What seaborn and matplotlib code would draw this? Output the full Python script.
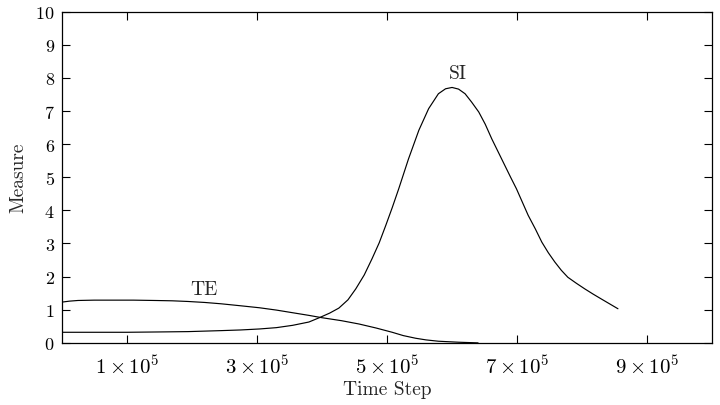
import pandas as pd
import numpy as np
import matplotlib
matplotlib.use('Agg')
import matplotlib.pyplot as plt
import seaborn as sns

# ── data (step in units of 1e5) ─────────────────────────────
si_step = [0, 0.5, 1.0, 1.5, 1.94, 2.45, 2.75, 3.04, 3.3, 3.55, 3.8, 3.96,
           4.12, 4.26, 4.40, 4.52, 4.65, 4.77, 4.88, 4.98, 5.08, 5.18, 5.33,
           5.49, 5.64, 5.79, 5.90, 6.00, 6.10, 6.20, 6.30, 6.41, 6.51, 6.61,
           6.71, 6.81, 6.90, 6.99, 7.08, 7.17, 7.28, 7.38, 7.48, 7.58, 7.68,
           7.78, 7.91, 8.04, 8.17, 8.29, 8.42, 8.55]
si_val = [0.32, 0.32, 0.32, 0.33, 0.34, 0.37, 0.39, 0.42, 0.46, 0.53, 0.63, 0.76,
          0.90, 1.05, 1.30, 1.63, 2.05, 2.54, 3.02, 3.54, 4.08, 4.65, 5.55,
          6.42, 7.07, 7.52, 7.67, 7.71, 7.66, 7.52, 7.27, 6.97, 6.60, 6.16,
          5.76, 5.36, 5.00, 4.65, 4.25, 3.85, 3.44, 3.04, 2.72, 2.44, 2.19,
          1.98, 1.80, 1.63, 1.47, 1.33, 1.18, 1.03]

te_step = [0, 0.12, 0.25, 0.5, 0.8, 1.1, 1.43, 1.7, 1.94, 2.2, 2.45, 2.75,
           3.04, 3.3, 3.55, 3.8, 4.0, 4.3, 4.57, 4.83, 5.08, 5.25, 5.44, 5.6,
           5.79, 6.1, 6.4]
te_val = [1.23, 1.26, 1.28, 1.29, 1.29, 1.29, 1.28, 1.27, 1.25, 1.22, 1.18, 1.12,
          1.06, 0.99, 0.91, 0.83, 0.76, 0.67, 0.57, 0.45, 0.32, 0.22, 0.14, 0.09,
          0.05, 0.02, 0.0]

x_ticks = [1, 3, 5, 7, 9]
x_tick_labels = [r'$1 \times 10^5$', r'$3 \times 10^5$', r'$5 \times 10^5$',
                 r'$7 \times 10^5$', r'$9 \times 10^5$']
y_ticks = list(range(0, 11))

df = pd.concat([
    pd.DataFrame({'step': np.array(si_step) * 1e5, 'measure': si_val, 'series': 'SI'}),
    pd.DataFrame({'step': np.array(te_step) * 1e5, 'measure': te_val, 'series': 'TE'}),
])

# ── style ───────────────────────────────────────────────────
sns.set_style('ticks')
plt.rcParams['font.family'] = ['cmr10', 'DejaVu Serif']
plt.rcParams['mathtext.fontset'] = 'cm'
plt.rcParams['axes.formatter.use_mathtext'] = True

fig, ax = plt.subplots(figsize=(7.2, 4.06), dpi=100)
fig.subplots_adjust(left=0.0857, right=0.9893, top=0.969, bottom=0.153)

sns.lineplot(data=df, x='step', y='measure', units='series', estimator=None,
             color='black', linewidth=0.85, sort=True, ax=ax, legend=False)

ax.set_xlim(0, 1e6)
ax.set_ylim(0, 10)
ax.set_xticks([t * 1e5 for t in x_ticks])
ax.set_xticklabels(x_tick_labels)
ax.set_yticks(y_ticks)
ax.tick_params(direction='in', length=6, width=0.8, top=True, right=True,
               colors='black')
ax.tick_params(axis='x', labelsize=15, pad=8)
ax.tick_params(axis='y', labelsize=13, pad=5)
for s in ax.spines.values():
    s.set_linewidth(0.9)
    s.set_color('black')

ax.set_xlabel('Time Step', fontsize=14, labelpad=2)
ax.set_ylabel('Measure', fontsize=14, labelpad=6)

ax.text(2.19e5, 1.63, 'TE', fontsize=14, ha='center', va='center')
ax.text(6.09e5, 8.16, 'SI', fontsize=14, ha='center', va='center')

plt.savefig('out.png', dpi=100, facecolor='white')
